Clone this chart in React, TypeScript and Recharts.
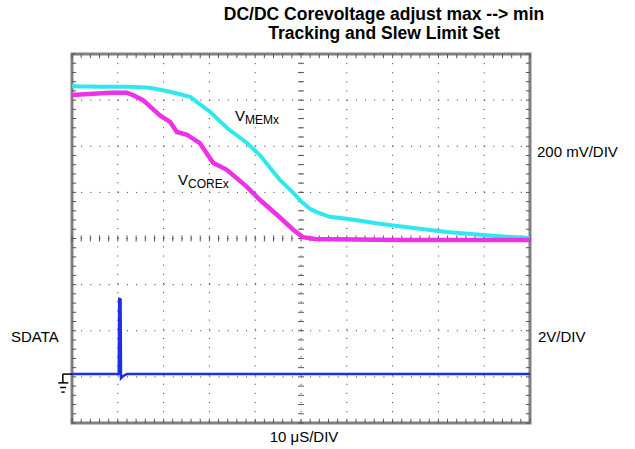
import {
  ComposedChart,
  Line,
  XAxis,
  YAxis,
  CartesianGrid,
  ReferenceLine,
  ReferenceArea,
} from "recharts";

// time in divisions (10 µs/div), level in divisions from bottom of screen
const memTime = [0, 0.61, 1.27, 1.7, 2.14, 2.58, 3.01, 3.38, 3.82, 4.1, 4.54, 4.83, 5.02, 5.2, 5.37, 5.63, 6.0, 6.72, 7.45, 8.19, 8.91, 9.63, 10];
const memLevel = [7.3, 7.29, 7.29, 7.27, 7.18, 7.07, 6.75, 6.4, 6.07, 5.81, 5.27, 4.99, 4.79, 4.64, 4.56, 4.47, 4.43, 4.32, 4.23, 4.14, 4.08, 4.03, 4.01];

const coreTime = [0, 0.83, 1.2, 1.33, 1.55, 1.92, 2.14, 2.29, 2.51, 2.79, 3.08, 3.38, 3.82, 4.1, 4.48, 4.83, 5.04, 5.31, 7.16, 10];
const coreLevel = [7.11, 7.16, 7.16, 7.11, 7.0, 6.67, 6.53, 6.31, 6.25, 6.07, 5.64, 5.49, 5.12, 4.84, 4.51, 4.19, 4.03, 3.99, 3.97, 3.97];

const sdataTime = [0, 1.02, 1.03, 1.06, 1.07, 1.12, 1.2, 10];
const sdataLevel = [1.06, 1.06, 2.69, 2.68, 0.97, 1.02, 1.06, 1.06];

const xTicks = [0, 1, 2, 3, 4, 5, 6, 7, 8, 9, 10];
const yTicks = [0, 1, 2, 3, 4, 5, 6, 7, 8];

const memData = memTime.map((t, i) => ({ t, v: memLevel[i] }));
const coreData = coreTime.map((t, i) => ({ t, v: coreLevel[i] }));
const sdataData = sdataTime.map((t, i) => ({ t, v: sdataLevel[i] }));

const xMinor = Array.from({ length: 51 }, (_, i) => i / 5);
const yMinor = Array.from({ length: 41 }, (_, i) => i / 5);
const tk = 0.065;

const font = "'Liberation Sans', Arial, sans-serif";

export default function App() {
  const gnd = sdataLevel[0];
  return (
    <div
      style={{
        position: "absolute",
        left: 0,
        top: 0,
        width: 635,
        height: 449,
        background: "#fff",
        fontFamily: font,
        color: "#000",
      }}
    >
      <div
        style={{
          position: "absolute",
          left: 184,
          width: 400,
          top: 5,
          textAlign: "center",
          fontWeight: "bold",
          fontSize: 17.5,
          lineHeight: "19px",
        }}
      >
        DC/DC Corevoltage adjust max --&gt; min
        <br />
        Tracking and Slew Limit Set
      </div>

      <ComposedChart
        width={635}
        height={449}
        margin={{ top: 54, right: 105, bottom: 26, left: 72 }}
        style={{ position: "absolute", left: 0, top: 0 }}
      >
        <XAxis type="number" dataKey="t" domain={[0, 10]} ticks={xTicks} hide allowDataOverflow />
        <YAxis type="number" dataKey="v" domain={[0, 8]} ticks={yTicks} hide allowDataOverflow />
        <CartesianGrid stroke="#333" strokeDasharray="1 8.16" />

        {xMinor.map((x) => (
          <ReferenceLine key={"cx" + x} segment={[{ x, y: 4 - tk }, { x, y: 4 + tk }]} stroke="#555" />
        ))}
        {yMinor.map((y) => (
          <ReferenceLine key={"cy" + y} segment={[{ x: 5 - tk, y }, { x: 5 + tk, y }]} stroke="#555" />
        ))}
        {xMinor.map((x) => (
          <ReferenceLine key={"tx" + x} segment={[{ x, y: 8 }, { x, y: 8 - tk * 1.4 }]} stroke="#555" />
        ))}
        {xMinor.map((x) => (
          <ReferenceLine key={"bx" + x} segment={[{ x, y: 0 }, { x, y: tk * 1.4 }]} stroke="#555" />
        ))}
        {yMinor.map((y) => (
          <ReferenceLine key={"ly" + y} segment={[{ x: 0, y }, { x: tk * 1.4, y }]} stroke="#555" />
        ))}
        {yMinor.map((y) => (
          <ReferenceLine key={"ry" + y} segment={[{ x: 10, y }, { x: 10 - tk * 1.4, y }]} stroke="#555" />
        ))}

        <ReferenceArea x1={0} x2={10} y1={0} y2={8} fill="none" stroke="#808080" strokeWidth={3} />

        {/* ground marker for SDATA channel */}
        <ReferenceLine ifOverflow="visible" segment={[{ x: -0.2, y: gnd }, { x: 0, y: gnd }]} stroke="#000" strokeWidth={1.5} />
        <ReferenceLine ifOverflow="visible" segment={[{ x: -0.2, y: gnd }, { x: -0.2, y: 0.87 }]} stroke="#000" strokeWidth={1.5} />
        <ReferenceLine ifOverflow="visible" segment={[{ x: -0.3, y: 0.87 }, { x: -0.08, y: 0.87 }]} stroke="#000" strokeWidth={1.5} />
        <ReferenceLine ifOverflow="visible" segment={[{ x: -0.26, y: 0.77 }, { x: -0.13, y: 0.77 }]} stroke="#000" strokeWidth={1.5} />
        <ReferenceLine ifOverflow="visible" segment={[{ x: -0.23, y: 0.67 }, { x: -0.16, y: 0.67 }]} stroke="#000" strokeWidth={1.5} />

        <Line data={memData} dataKey="v" type="linear" stroke="#2EE8EE" strokeWidth={4} dot={false} isAnimationActive={false} />
        <Line data={coreData} dataKey="v" type="linear" stroke="#EE30E8" strokeWidth={4.5} dot={false} isAnimationActive={false} />
        <Line data={sdataData} dataKey="v" type="linear" stroke="#1E2EE6" strokeWidth={2.5} dot={false} isAnimationActive={false} />
      </ComposedChart>

      <div style={{ position: "absolute", left: 235, top: 107, fontSize: 15, whiteSpace: "nowrap" }}>
        V<sub style={{ fontSize: 12, verticalAlign: "-3px" }}>MEMx</sub>
      </div>
      <div style={{ position: "absolute", left: 178, top: 171, fontSize: 15, whiteSpace: "nowrap" }}>
        V<sub style={{ fontSize: 12, verticalAlign: "-3px" }}>COREx</sub>
      </div>
      <div style={{ position: "absolute", left: 537, top: 143, fontSize: 15 }}>200 mV/DIV</div>
      <div style={{ position: "absolute", left: 538, top: 328, fontSize: 15 }}>2V/DIV</div>
      <div style={{ position: "absolute", left: 11, top: 328, fontSize: 15 }}>SDATA</div>
      <div style={{ position: "absolute", left: 204, width: 200, top: 428, fontSize: 15, textAlign: "center" }}>
        10 μS/DIV
      </div>
    </div>
  );
}
